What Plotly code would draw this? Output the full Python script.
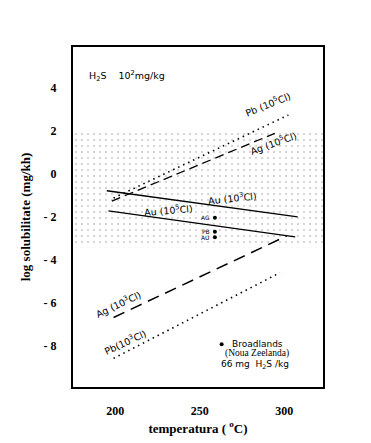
import plotly.graph_objects as go

# ---- data ----
temp_au3 = [195, 308]
logs_au3 = [-0.78, -1.99]
temp_au5 = [196, 306.5]
logs_au5 = [-1.72, -2.92]
temp_ag5 = [198, 294.5]
logs_ag5 = [-1.26, 1.89]
temp_pb5 = [199, 302.5]
logs_pb5 = [-1.12, 2.74]
temp_ag3 = [199, 301.5]
logs_ag3 = [-6.67, -2.88]
temp_pb3 = [199, 297.5]
logs_pb3 = [-8.57, -4.59]
point_names = ["AG", "PB", "AU"]
point_temp = [259, 259, 259]
point_logs = [-2.03, -2.68, -2.94]
band_logs = [-3.4, 2.05]
x_range = [175, 323]
y_range = [-9.9, 5.9]
x_ticks = [200, 250, 300]
y_ticks = [4, 2, 0, -2, -4, -6, -8]
y_ticktext = ["4", "2", "0", "- 2", "- 4", "- 6", "- 8"]
broadlands_temp = [263]
broadlands_logs = [-7.91]

fig = go.Figure()

# stippled band
fig.add_trace(go.Scatter(
    x=[x_range[0], x_range[1], x_range[1], x_range[0], x_range[0]],
    y=[band_logs[0], band_logs[0], band_logs[1], band_logs[1], band_logs[0]],
    mode="lines", line=dict(width=0), fill="toself",
    fillcolor="rgba(0,0,0,0)",
    fillpattern=dict(shape=".", size=6, solidity=0.1, fgcolor="#9a9a9a", bgcolor="white"),
    hoverinfo="skip", showlegend=False))

def line(x, y, dash, width=1.3):
    fig.add_trace(go.Scatter(x=x, y=y, mode="lines",
                             line=dict(color="black", width=width, dash=dash),
                             showlegend=False))

line(temp_au3, logs_au3, "solid")
line(temp_au5, logs_au5, "solid")
line(temp_ag5, logs_ag5, "9px,5px")
line(temp_pb5, logs_pb5, "1.5px,4px", 1.6)
line(temp_ag3, logs_ag3, "12px,7px", 1.5)
line(temp_pb3, logs_pb3, "1.5px,4px", 1.6)

fig.add_trace(go.Scatter(x=point_temp, y=point_logs, mode="markers",
                         marker=dict(color="black", size=4), showlegend=False))
fig.add_trace(go.Scatter(x=broadlands_temp, y=broadlands_logs, mode="markers",
                         marker=dict(color="black", size=4), showlegend=False))

sans = "DejaVu Sans"
serif = "Liberation Serif"
ann = []
def a(x, y, text, angle=0, size=9.5, font=sans, xanchor="center"):
    ann.append(dict(x=x, y=y, xref="x", yref="y", text=text, showarrow=False,
                    textangle=angle, xanchor=xanchor,
                    font=dict(family=font, size=size, color="black")))

a(183.4, 4.56, "H<sub>2</sub>S    10<sup>2</sup>mg/kg", 0, 9.5, xanchor="left")
a(290.5, 3.25, "Pb (10<sup>5</sup>Cl)", -22)
a(293.5, 1.45, "Ag (10<sup>5</sup>Cl)", -20)
a(269.2, -1.1, "Au (10<sup>3</sup>Cl)", -6)
a(231.4, -1.66, "Au (10<sup>5</sup>Cl)", -5)
a(201.8, -6.05, "Ag (10<sup>3</sup>Cl)", -25)
a(205.9, -7.83, "Pb(10<sup>3</sup>Cl)", -25)
for n, t, v in zip(point_names, point_temp, point_logs):
    a(t - 2, v, n, 0, 6, xanchor="right")

a(268, -7.91, "Broadlands", 0, 9, xanchor="left")
a(283.8, -8.36, "(Noua Zeelanda)", 0, 9.5, serif)
a(283, -8.85, "66 mg  H<sub>2</sub>S /kg", 0, 9)

# page body adds an 8px offset, so the figure is 8px smaller and margins shifted
fig.update_layout(
    width=363, height=435,
    margin=dict(l=65, r=48, t=39, b=56),
    paper_bgcolor="white", plot_bgcolor="white",
    annotations=ann,
    xaxis=dict(range=x_range, tickvals=x_ticks, showgrid=False, zeroline=False,
               automargin=False,
               showline=True, mirror=True, linecolor="black", linewidth=2, ticks="",
               ticklabelstandoff=12,
               tickfont=dict(family=serif, size=12, color="black", weight="bold"),
               title=dict(text="temperatura ( <sup>o</sup>C)", standoff=6,
                          font=dict(family=serif, size=13, color="black", weight="bold"))),
    yaxis=dict(range=y_range, tickvals=y_ticks, ticktext=y_ticktext, showgrid=False,
               automargin=False,
               zeroline=False, showline=True, mirror=True, linecolor="black", linewidth=2,
               ticks="", ticklabelstandoff=12,
               tickfont=dict(family=serif, size=12, color="black", weight="bold"),
               title=dict(text="log solubilitate (mg/kh)", standoff=10,
                          font=dict(family=serif, size=13, color="black", weight="bold"))),
)

fig.write_html("out.html")
